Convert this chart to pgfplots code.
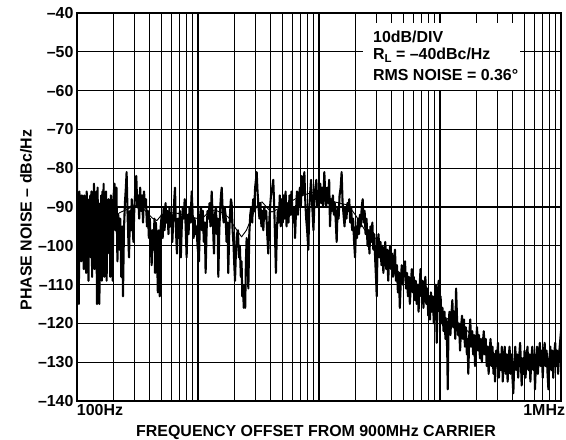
\documentclass[border=0pt]{standalone}
\usepackage{pgfplots}
\pgfplotsset{compat=1.18}
\usepackage{fontspec}
\setmainfont{Liberation Sans}
\newcommand{\lf}{\fontsize{16}{18}\selectfont\bfseries}
\begin{document}
\begin{tikzpicture}
\begin{axis}[
  at={(0,0)}, anchor=south west,
  scale only axis, width=484bp, height=388bp,
  xmin=2, xmax=6, ymin=-140, ymax=-40,
  xtick={2,3,4,5,6},
  xticklabels={\makebox[0pt][l]{100Hz},,,,\makebox[0pt][r]{1MHz\kern-4bp}},
  minor xtick={2.30103,2.47712,2.60206,2.69897,2.77815,2.84510,2.90309,2.95424,
               3.30103,3.47712,3.60206,3.69897,3.77815,3.84510,3.90309,3.95424,
               4.30103,4.47712,4.60206,4.69897,4.77815,4.84510,4.90309,4.95424,
               5.30103,5.47712,5.60206,5.69897,5.77815,5.84510,5.90309,5.95424},
  ytick={-140,-130,...,-40},
  yticklabels={--140,--130,--120,--110,--100,--90,--80,--70,--60,--50,--40},
  tick label style={font=\lf},
  major tick length=0pt, minor tick length=0pt,
  grid=both,
  major x grid style={black, line width=1.8bp},
  major y grid style={black, line width=1.3bp},
  minor x grid style={black, line width=1bp},
  axis line style={black, line width=1.6bp},
  xlabel={FREQUENCY OFFSET FROM 900MHz CARRIER},
  ylabel={PHASE NOISE -- dBc/Hz},
  every axis x label/.style={at={(axis description cs:0.5,0)}, anchor=center, xshift=-3bp, yshift=-31.4bp, inner sep=0pt, font=\lf},
  every axis y label/.style={at={(axis description cs:-0.1054,0.466)}, anchor=center, rotate=90, inner sep=0pt, font=\lf},
]
% white patch for annotation
\fill[white] (axis cs:4.364,-42.6) rectangle (axis cs:5.661,-59.8);
\node[anchor=base west, inner sep=0pt, font=\lf] at (axis cs:4.446,-47.5) {10dB/DIV};
\node[anchor=base west, inner sep=0pt, font=\lf] at (axis cs:4.446,-52.1) {R\raisebox{-3bp}{\fontsize{11.5}{12}\selectfont L} = --40dBc/Hz};
\node[anchor=base west, inner sep=0pt, font=\lf] at (axis cs:4.446,-57.3) {RMS NOISE = 0.36°};

\addplot[black, line width=2.1bp, line join=round] table {
x y
2.000 -81
2.005 -104
2.010 -87
2.015 -115
2.020 -86
2.025 -97
2.030 -88
2.035 -104
2.040 -87
2.045 -93
2.050 -89
2.055 -106
2.060 -87
2.065 -99
2.070 -90
2.075 -107
2.080 -86
2.085 -95
2.090 -89
2.095 -109
2.100 -88
2.105 -97
2.110 -87
2.115 -103
2.120 -86
2.125 -108
2.130 -89
2.135 -101
2.140 -84
2.145 -106
2.150 -88
2.155 -98
2.160 -86
2.165 -115
2.170 -85
2.175 -99
2.180 -89
2.185 -115
2.190 -90
2.195 -100
2.200 -87
2.205 -109
2.210 -86
2.215 -96
2.220 -84
2.225 -108
2.230 -88
2.235 -97
2.240 -86
2.245 -109
2.250 -89
2.255 -102
2.260 -88
2.265 -95
2.270 -89
2.275 -108
2.280 -87
2.285 -100
2.290 -91
2.295 -109
2.300 -88
2.310 -84
2.318 -96
2.326 -85
2.334 -104
2.342 -92
2.350 -101
2.358 -93
2.366 -108
2.374 -95
2.380 -113
2.388 -96
2.396 -89
2.404 -85
2.410 -81
2.418 -92
2.424 -98
2.430 -103
2.438 -91
2.446 -96
2.452 -88
2.460 -94
2.466 -99
2.474 -90
2.482 -86
2.490 -82
2.498 -90
2.506 -87
2.514 -93
2.522 -85
2.530 -91
2.538 -87
2.546 -94
2.554 -86
2.562 -90
2.570 -88
2.578 -95
2.586 -91
2.594 -98
2.602 -93
2.610 -100
2.617 -105
2.624 -96
2.632 -101
2.640 -93
2.645 -107
2.652 -94
2.660 -99
2.668 -112
2.676 -96
2.684 -113
2.692 -95
2.700 -92
2.708 -98
2.716 -90
2.724 -96
2.732 -89
2.740 -94
2.748 -91
2.756 -97
2.764 -90
2.772 -95
2.780 -92
2.788 -99
2.796 -93
2.804 -88
2.810 -85
2.818 -96
2.826 -102
2.834 -93
2.842 -98
2.850 -91
2.858 -103
2.866 -95
2.874 -90
2.882 -93
2.890 -88
2.898 -95
2.906 -103
2.914 -92
2.922 -97
2.930 -90
2.938 -94
2.948 -86
2.956 -92
2.964 -98
2.972 -93
2.980 -97
2.988 -95
2.996 -100
3.008 -104
3.016 -93
3.024 -90
3.032 -96
3.040 -91
3.048 -99
3.056 -94
3.063 -107
3.071 -96
3.079 -91
3.087 -93
3.095 -89
3.103 -95
3.113 -86
3.122 -93
3.132 -102
3.140 -92
3.148 -90
3.156 -97
3.162 -93
3.168 -108
3.176 -96
3.184 -90
3.190 -87
3.196 -85
3.204 -91
3.212 -94
3.220 -90
3.228 -92
3.236 -99
3.244 -94
3.250 -107
3.258 -97
3.266 -91
3.272 -88
3.278 -89
3.286 -96
3.294 -100
3.300 -105
3.306 -109
3.314 -101
3.322 -97
3.330 -96
3.338 -103
3.346 -100
3.354 -108
3.360 -104
3.366 -113
3.372 -110
3.378 -116
3.384 -112
3.390 -116
3.396 -104
3.402 -98
3.410 -103
3.416 -111
3.424 -97
3.432 -92
3.440 -90
3.448 -94
3.456 -88
3.464 -91
3.472 -85
3.479 -83
3.485 -81
3.492 -86
3.500 -90
3.508 -93
3.516 -89
3.524 -95
3.532 -91
3.540 -96
3.548 -90
3.556 -93
3.564 -91
3.572 -97
3.581 -102
3.590 -93
3.598 -89
3.606 -86
3.614 -85
3.622 -83
3.630 -90
3.637 -98
3.644 -107
3.652 -96
3.660 -91
3.668 -94
3.676 -87
3.684 -95
3.692 -88
3.700 -94
3.708 -87
3.716 -93
3.724 -86
3.732 -95
3.740 -89
3.748 -94
3.756 -87
3.764 -92
3.772 -86
3.780 -91
3.788 -94
3.796 -90
3.802 -98
3.810 -91
3.818 -86
3.826 -92
3.834 -88
3.842 -85
3.850 -90
3.857 -82
3.864 -87
3.872 -84
3.879 -81
3.886 -88
3.894 -93
3.902 -96
3.912 -101
3.920 -90
3.928 -86
3.934 -83
3.940 -87
3.948 -92
3.954 -96
3.962 -89
3.970 -85
3.978 -83
3.986 -90
3.994 -86
4.002 -88
4.010 -84
4.018 -89
4.026 -85
4.034 -90
4.044 -81
4.052 -87
4.060 -90
4.068 -85
4.076 -89
4.084 -83
4.091 -95
4.099 -88
4.107 -91
4.115 -87
4.123 -92
4.131 -89
4.139 -94
4.146 -99
4.154 -90
4.162 -93
4.170 -87
4.179 -85
4.187 -81
4.195 -89
4.203 -92
4.211 -95
4.219 -90
4.227 -93
4.235 -89
4.242 -91
4.250 -88
4.258 -94
4.266 -90
4.274 -96
4.282 -93
4.290 -99
4.298 -103
4.306 -95
4.314 -98
4.322 -93
4.330 -97
4.338 -92
4.346 -95
4.353 -90
4.361 -88
4.369 -94
4.377 -91
4.385 -97
4.393 -93
4.401 -100
4.409 -96
4.417 -102
4.425 -95
4.433 -99
4.441 -94
4.449 -101
4.457 -97
4.465 -104
4.471 -108
4.477 -113
4.484 -100
4.492 -97
4.500 -103
4.508 -99
4.516 -105
4.524 -100
4.532 -107
4.540 -102
4.548 -99
4.556 -106
4.564 -101
4.572 -109
4.580 -103
4.588 -100
4.596 -106
4.604 -102
4.612 -108
4.620 -104
4.628 -101
4.636 -109
4.644 -105
4.652 -112
4.660 -107
4.668 -116
4.676 -109
4.684 -105
4.692 -110
4.700 -106
4.711 -104
4.719 -111
4.727 -107
4.735 -113
4.743 -108
4.751 -115
4.759 -110
4.767 -106
4.775 -112
4.783 -108
4.791 -114
4.799 -109
4.807 -115
4.815 -110
4.823 -117
4.831 -111
4.839 -106
4.847 -113
4.855 -109
4.863 -116
4.871 -111
4.879 -108
4.887 -115
4.895 -111
4.903 -118
4.911 -113
4.917 -119
4.925 -112
4.933 -117
4.941 -113
4.949 -120
4.957 -114
4.965 -110
4.973 -125
4.981 -113
4.989 -109
4.997 -117
5.005 -113
5.013 -120
5.021 -116
5.029 -122
5.037 -117
5.045 -124
5.053 -119
5.060 -128
5.064 -137
5.070 -121
5.078 -117
5.086 -123
5.094 -118
5.102 -114
5.110 -121
5.118 -117
5.126 -124
5.133 -111
5.141 -119
5.149 -123
5.157 -120
5.166 -127
5.174 -121
5.182 -118
5.190 -124
5.198 -119
5.206 -126
5.214 -121
5.222 -128
5.228 -124
5.234 -133
5.242 -123
5.250 -119
5.258 -126
5.266 -122
5.274 -128
5.282 -123
5.290 -131
5.298 -125
5.306 -121
5.314 -127
5.322 -123
5.330 -129
5.338 -124
5.346 -130
5.354 -125
5.362 -122
5.370 -128
5.378 -124
5.386 -131
5.394 -126
5.402 -133
5.410 -127
5.418 -124
5.426 -131
5.434 -126
5.442 -133
5.450 -128
5.455 -135
5.463 -127
5.471 -131
5.479 -125
5.487 -134
5.495 -128
5.503 -132
5.511 -126
5.519 -135
5.527 -129
5.535 -126
5.543 -133
5.551 -128
5.559 -135
5.567 -129
5.575 -126
5.583 -133
5.591 -128
5.599 -134
5.606 -138
5.614 -130
5.622 -126
5.630 -132
5.638 -128
5.646 -134
5.654 -129
5.662 -125
5.670 -131
5.675 -136
5.683 -129
5.691 -133
5.699 -127
5.707 -134
5.715 -129
5.723 -126
5.731 -132
5.739 -128
5.747 -135
5.755 -129
5.763 -126
5.771 -132
5.779 -128
5.785 -137
5.793 -130
5.801 -126
5.809 -133
5.817 -128
5.825 -125
5.833 -131
5.841 -127
5.849 -134
5.857 -128
5.865 -125
5.873 -131
5.881 -127
5.889 -133
5.896 -137
5.904 -129
5.912 -126
5.920 -132
5.928 -127
5.936 -134
5.944 -128
5.952 -125
5.960 -131
5.968 -127
5.976 -133
5.984 -128
5.992 -125
6.000 -122
};

\addplot[black, line width=0.9bp, line join=round] table {
x y
2.00 -88
2.05 -90
2.10 -91
2.15 -92
2.20 -91.5
2.25 -92
2.30 -93
2.35 -91.5
2.40 -90.8
2.45 -90
2.50 -89.5
2.55 -90.5
2.62 -92.8
2.66 -93.5
2.70 -92
2.75 -91.5
2.81 -91.5
2.88 -92
2.95 -92.6
3.00 -93
3.05 -92.5
3.10 -91
3.14 -90.8
3.20 -91.5
3.25 -92.6
3.30 -95
3.36 -97.7
3.40 -96
3.46 -91.5
3.50 -89
3.53 -88.7
3.58 -90.5
3.61 -91.3
3.66 -90.5
3.72 -89.5
3.80 -88
3.86 -87
3.92 -86.5
3.99 -86
4.05 -87.5
4.13 -88.7
4.24 -89.5
4.30 -92
4.38 -96
4.44 -97.5
4.49 -98.5
4.53 -101
4.57 -104
4.65 -106.5
4.74 -108.8
4.82 -111
4.90 -113.2
4.97 -116
5.04 -118.4
5.13 -120
5.23 -122
5.30 -124.5
5.40 -126.9
5.51 -129
5.60 -129.8
5.68 -130
5.78 -129.7
5.87 -129
5.95 -129
6.00 -128.5
};
\end{axis}
\path (-77bp,-39bp) rectangle (489bp,401bp);
\end{tikzpicture}
\end{document}
